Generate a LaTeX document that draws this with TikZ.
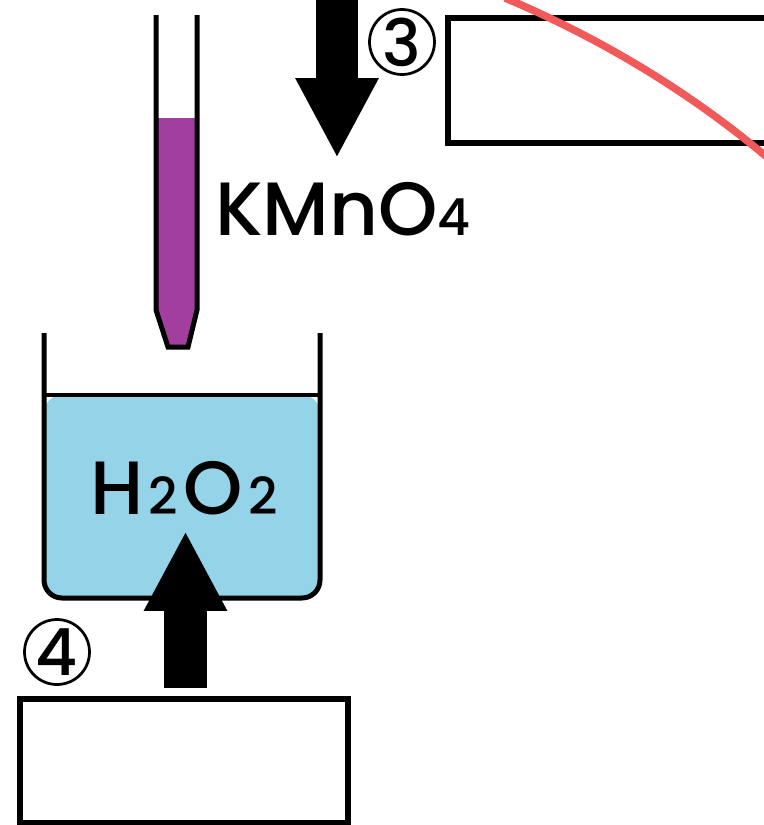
\documentclass[tikz,border=0pt]{standalone}
\usepackage{fontspec}
\usepackage{tikz}
\usetikzlibrary{arrows.meta}
\setmainfont[BoldFont={Poppins Medium}]{Poppins}
\definecolor{tubepurple}{HTML}{A23F9E}
\definecolor{waterblue}{HTML}{94D3E8}
\definecolor{markred}{HTML}{F25A5A}
\tikzset{
  answerbox/.style={draw, line width=0.115cm, rectangle, inner sep=0pt},
  numcircle/.style={draw, circle, line width=0.055cm, minimum size=1.3cm, inner sep=0pt, font=\bfseries\fontsize{37}{37}\selectfont},
  formula/.style={inner sep=0pt, font=\bfseries\fontsize{43}{43}\selectfont},
  fatarrow/.style={line width=0.86cm, -{Triangle[length=1.6cm, width=1.55cm]}},
}
\newcommand{\subdigit}[1]{{\fontsize{29}{29}\selectfont #1}}
\begin{document}
\begin{tikzpicture}[x=0.02cm, y=-0.02cm]
        \path[use as bounding box, clip] (0, 0) rectangle (764, 825);
        \fill[waterblue, rounded corners=0.36cm] (44, 395) -- (44, 598) -- (320, 598) -- (320, 395) -- cycle;
        \draw[line width=0.1cm, rounded corners=0.36cm] (44, 333) -- (44, 598) -- (320, 598) -- (320, 333);
        \draw[line width=0.07cm] (44, 395) -- (320, 395);
        \fill[tubepurple] (156, 118) -- (197, 118) -- (197, 312) -- (188, 346) -- (168, 346) -- (156, 312) -- cycle;
        \draw[line width=0.1cm] (156, 15) -- (156, 310) -- (168, 347) -- (188, 347) -- (197, 310) -- (197, 15);
        \node[answerbox, minimum width=7cm, minimum height=2.5cm] (box3) at (623, 80.5) {};
        \node[answerbox, minimum width=6.55cm, minimum height=2.48cm] (box4) at (184, 761) {};
        \node[numcircle] (num3) at (402, 42) {3};
        \node[numcircle] (num4) at (57, 652) {4};
        \node[formula] (kmno) at (343, 209) {KMnO\subdigit{4}};
        \node[formula] (peroxide) at (184, 488) {H\kern3pt\subdigit{2}\kern3pt O\kern3pt\subdigit{2}};
        \coordinate (down start) at (337, -5);
        \coordinate (down end) at (337, 158);
        \coordinate (up start) at (185.5, 688);
        \coordinate (up end) at (185.5, 531);
        \draw[fatarrow] (down start) -- (down end);
        \draw[fatarrow] (up start) -- (up end);
        \draw[markred, line width=0.15cm] (505, -2) .. controls (600, 38) and (690, 92) .. (768, 158);
      \end{tikzpicture}
\end{document}
